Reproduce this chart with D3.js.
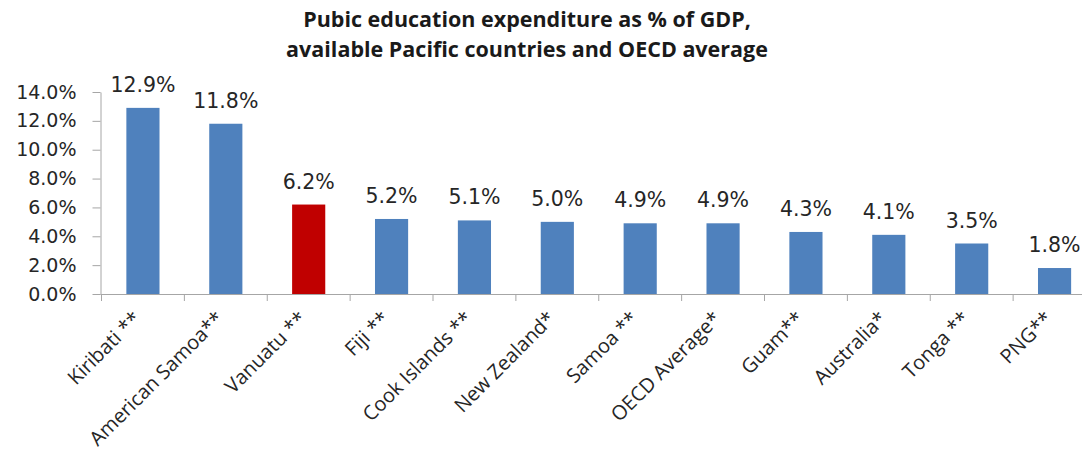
<!DOCTYPE html>
<html>
<head>
<meta charset="utf-8">
<script src="https://cdn.jsdelivr.net/npm/d3@7"></script>
<style>
  html, body { margin: 0; padding: 0; background: #ffffff; }
  svg { display: block; }
</style>
</head>
<body>
<svg id="chart" width="1082" height="457"></svg>
<script>
const categories = ["Kiribati **", "American Samoa**", "Vanuatu **", "Fiji **", "Cook Islands **",
  "New Zealand*", "Samoa **", "OECD Average*", "Guam**", "Australia*", "Tonga **", "PNG**"];
const values = [12.9, 11.8, 6.2, 5.2, 5.1, 5.0, 4.9, 4.9, 4.3, 4.1, 3.5, 1.8];
const highlighted = ["Vanuatu **"];
const yTicks = [0, 2, 4, 6, 8, 10, 12, 14];
const titleLines = ["Pubic education expenditure as % of GDP,", "available Pacific countries and OECD average"];

const svg = d3.select("#chart");
const baseY = 294, topY = 92;
const x = d3.scaleBand().domain(categories).range([101.5, 1096]).paddingInner(0.6).paddingOuter(0.3);
const y = d3.scaleLinear().domain([0, 14]).range([baseY, topY]);
const axisColor = "#a6a6a6";

// title
svg.append("g").selectAll("text").data(titleLines).join("text")
  .attr("x", 527).attr("y", (d, i) => 27 + i * 30)
  .attr("text-anchor", "middle")
  .attr("font-family", "'Open Sans', sans-serif")
  .attr("font-weight", "bold").attr("font-size", 21.5)
  .attr("fill", "#1a1a1a")
  .text(d => d);

// bars
svg.append("g").selectAll("rect").data(values).join("rect")
  .attr("x", (d, i) => x(categories[i]))
  .attr("y", d => y(d))
  .attr("width", x.bandwidth())
  .attr("height", d => baseY - y(d))
  .attr("fill", (d, i) => highlighted.includes(categories[i]) ? "#C00000" : "#4F81BD");

// value labels
svg.append("g").selectAll("text").data(values).join("text")
  .attr("x", (d, i) => x(categories[i]) + x.bandwidth() / 2)
  .attr("y", d => y(d) - 16)
  .attr("text-anchor", "middle")
  .attr("font-family", "'DejaVu Sans', sans-serif")
  .attr("font-size", 20.5)
  .attr("fill", "#262626")
  .text(d => d.toFixed(1) + "%");

// y axis
const yAxis = d3.axisLeft(y).tickValues(yTicks).tickSize(8).tickSizeOuter(0)
  .tickFormat(d => d.toFixed(1) + "%");
const yg = svg.append("g").attr("transform", "translate(100.5,0)").call(yAxis);
yg.select(".domain").attr("stroke", axisColor);
yg.selectAll(".tick line").attr("stroke", axisColor);
yg.selectAll(".tick text").attr("font-family", "'DejaVu Sans', sans-serif")
  .attr("font-size", 19).attr("fill", "#262626").attr("x", -24);

// x axis
svg.append("line").attr("x1", 100.5).attr("x2", 1082).attr("y1", baseY + 0.5).attr("y2", baseY + 0.5)
  .attr("stroke", axisColor);
const step = x.step();
const edges = categories.map(c => x(c) - step * x.paddingOuter());
svg.append("g").selectAll("line").data(edges).join("line")
  .attr("x1", d => d).attr("x2", d => d)
  .attr("y1", baseY).attr("y2", baseY + 7)
  .attr("stroke", axisColor);

// category labels
svg.append("g").selectAll("text").data(categories).join("text")
  .attr("transform", d => `translate(${x(d) + x.bandwidth() / 2 - 1},${baseY + 26}) rotate(-45)`)
  .attr("text-anchor", "end")
  .attr("font-family", "'Open Sans', sans-serif")
  .attr("font-size", 20)
  .attr("fill", "#262626")
  .text(d => d);
</script>
</body>
</html>
